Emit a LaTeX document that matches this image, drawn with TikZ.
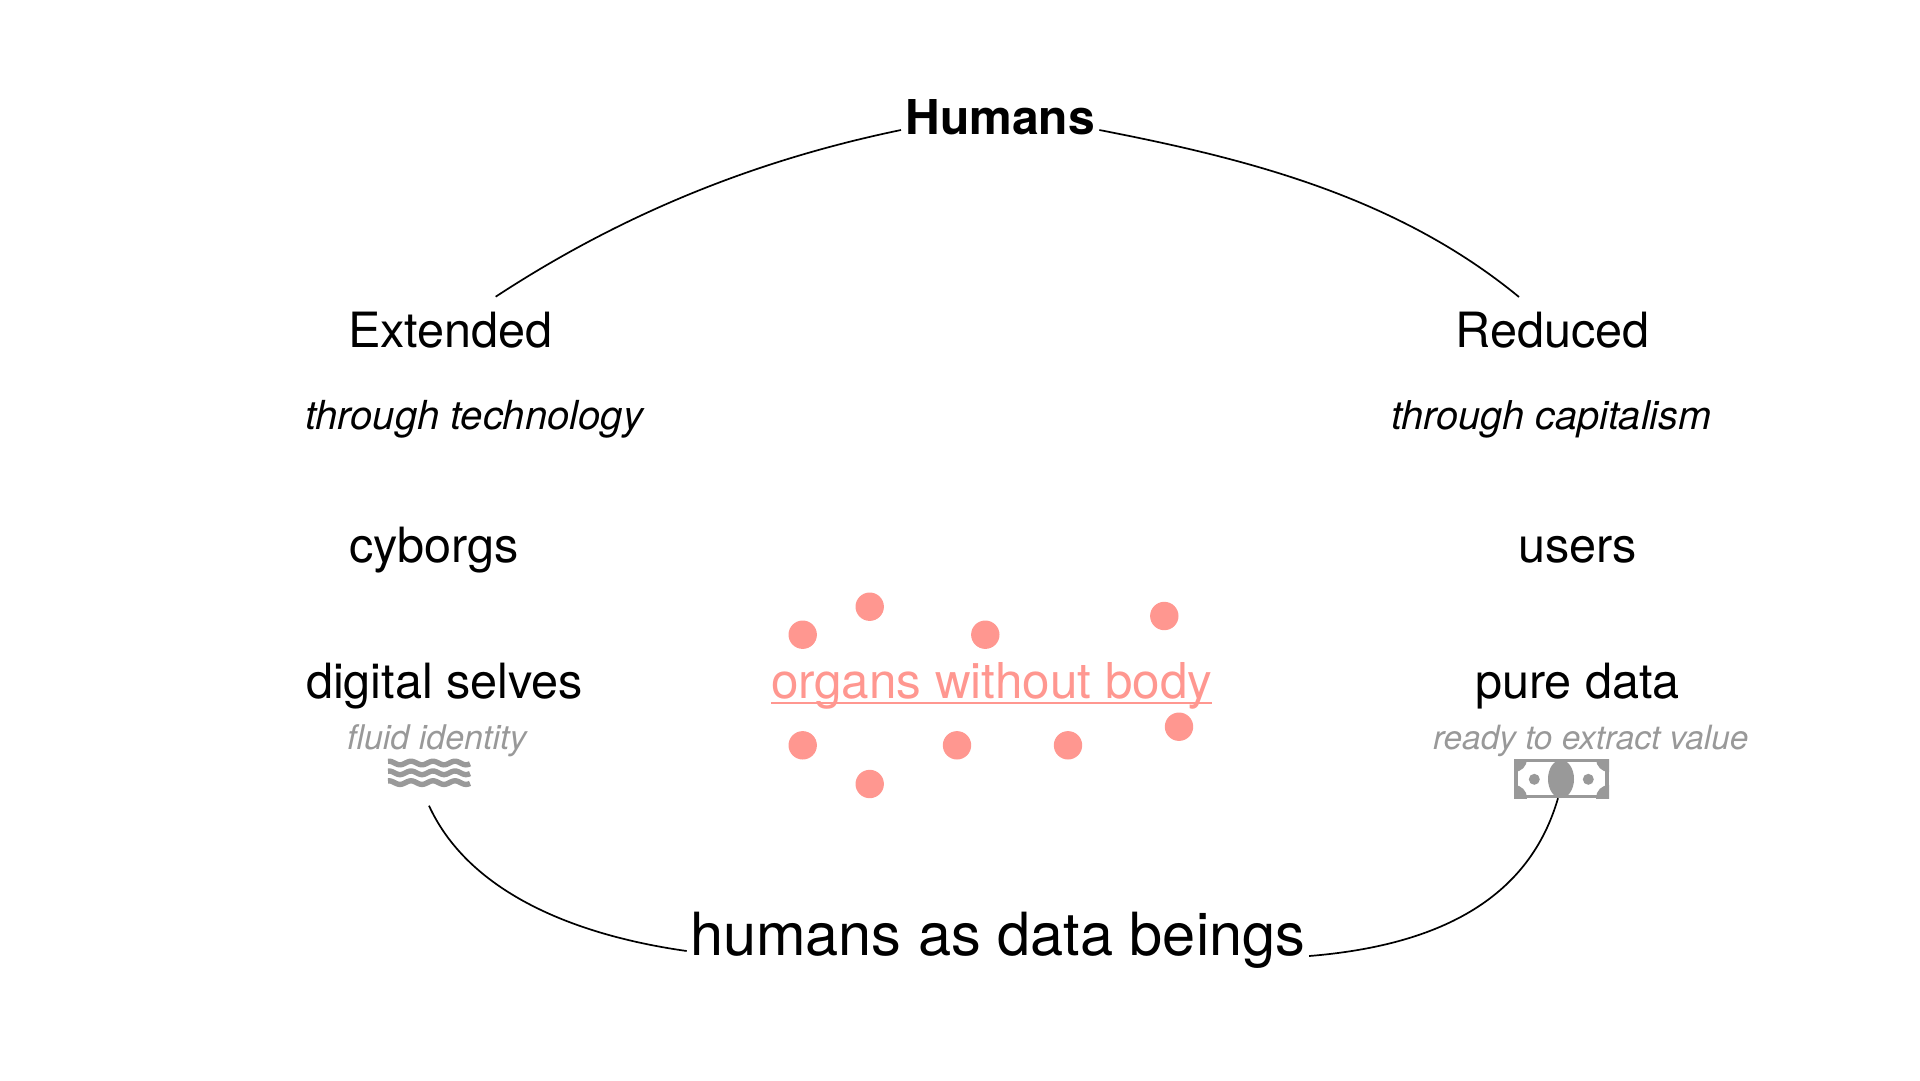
\documentclass[tikz,border=0pt]{standalone}
\usepackage{fontspec}
\setmainfont{TeX Gyre Heros}
\usetikzlibrary{calc}
\definecolor{salmon}{HTML}{FF9790}
\definecolor{softgray}{HTML}{999999}
\tikzset{
  lbl/.style={anchor=base west,inner sep=0pt,outer sep=0pt,text=black,font=\fontsize{48.6}{49}\selectfont},
  sub/.style={anchor=base west,inner sep=0pt,outer sep=0pt,text=black,font=\fontsize{40}{40}\selectfont\itshape},
  note/.style={anchor=base west,inner sep=0pt,outer sep=0pt,text=softgray,font=\fontsize{34}{34}\selectfont\itshape},
  dot/.style={circle,fill=salmon,inner sep=0pt,minimum size=28.4pt},
  link/.style={line width=1.7pt,black},
  ripple/.style={line width=5.4pt,softgray,smooth}
}
\begin{document}
\begin{tikzpicture}[x=1pt,y=-1pt]
\useasboundingbox (0,0) rectangle (1920,1080);
\node[lbl,font=\fontsize{48}{48}\selectfont\bfseries] (humans) at (905.5,134) {Humans};
\node[lbl] (extended) at (348,347.6) {Extended};
\node[sub] (ttech) at (305,429) {through technology};
\node[lbl] (cyborgs) at (349,562.6) {cyborgs};
\node[lbl] (selves) at (306,698) {digital selves};
\node[note] (fluid) at (347,749) {fluid identity};
\node[lbl] (reduced) at (1455.5,347.6) {Reduced};
\node[sub,font=\fontsize{39.7}{40}\selectfont\itshape] (tcap) at (1391,429) {through capitalism};
\node[lbl] (users) at (1518,562.6) {users};
\node[lbl] (pure) at (1475,698) {pure data};
\node[note,font=\fontsize{33.4}{34}\selectfont\itshape] (ready) at (1433,749) {ready to extract value};
\node[lbl,font=\fontsize{59.5}{60}\selectfont] (beings) at (690,955.5) {humans as data beings};
\node[lbl,text=salmon,font=\fontsize{49.4}{49}\selectfont] (organs) at (771,698) {organs without body};
\draw[salmon,line width=2.5pt] ($(organs.base west)+(0,5)$) -- ($(organs.base east)+(0,5)$);
% dots
\foreach \n/\px/\py in {a/802.7/634.7,b/869.7/606.7,c/985.3/634.7,d/1164.3/616,e/1179/726.7,f/802.7/745.3,g/957/745.3,h/1068/745.3,i/869.7/784}{
  \node[dot] (dot\n) at (\px,\py) {};
}
% waves
\foreach \r in {763,772.8,782.6}{
  \draw[ripple] plot[domain=388:470,samples=60] (\x,{\r-1.8*cos(16.3636*(\x-389))});
}
\coordinate (waves) at (429,787);
% bill
\node[rectangle,fill=softgray,inner sep=0pt,minimum width=95pt,minimum height=39pt] (bill) at (1561.5,778.5) {};
\fill[white] (1518,762) rectangle (1605,795);
\begin{scope}
\clip (1514,759) rectangle (1609,798);
\fill[softgray] (1514,759) circle (13);
\fill[softgray] (1609,759) circle (13);
\fill[softgray] (1514,798) circle (13);
\fill[softgray] (1609,798) circle (13);
\end{scope}
\fill[softgray] (1561,779) ellipse [x radius=13,y radius=19];
\fill[softgray] (1534.3,779.3) circle (5.5);
\fill[softgray] (1588.3,779.3) circle (5.5);
% connectors
\coordinate (hl) at ($(humans.base west)+(-4.5,-4)$);
\coordinate (hr) at ($(humans.base east)+(4.5,-4)$);
\coordinate (el) at ($(extended.base west)+(147.7,-50.9)$);
\coordinate (rr) at ($(reduced.base west)+(63.5,-50.6)$);
\coordinate (wv) at ($(waves)+(0,18.7)$);
\coordinate (bl) at ($(bill.south)+(-3.5,0)$);
\coordinate (dl) at ($(beings.base west)+(-3.3,-4.5)$);
\coordinate (dr) at ($(beings.base east)+(4,0.5)$);
\draw[link] (el) .. controls (631,208) and (766,158) .. (hl);
\draw[link] (hr) .. controls (1243,158) and (1395,195) .. (rr);
\draw[link] (wv) .. controls (470,895) and (580,936) .. (dl);
\draw[link] (bl) .. controls (1530,895) and (1445,945) .. (dr);
\end{tikzpicture}
\end{document}
